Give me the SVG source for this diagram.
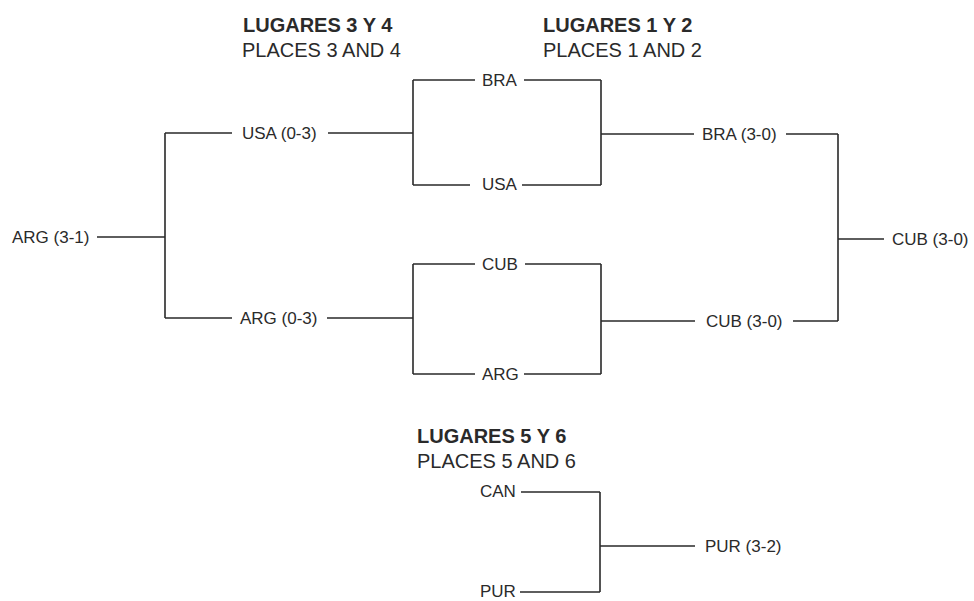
<svg xmlns="http://www.w3.org/2000/svg" width="974" height="601" viewBox="0 0 974 601">
<style>
.h{font-family:"Liberation Sans",Arial,sans-serif;font-size:20px;fill:#2a2a2a}
.b{font-weight:bold}
.t{font-family:"Liberation Sans",Arial,sans-serif;font-size:17px;fill:#2a2a2a}
.c{fill:none;stroke:#2a2a2a;stroke-width:1.6}
</style>
<rect width="974" height="601" fill="#ffffff"/>
<g id="headings">
<text class="h b" x="243" y="32">LUGARES 3 Y 4</text>
<text class="h" x="242" y="57">PLACES 3 AND 4</text>
<text class="h b" x="543" y="32">LUGARES 1 Y 2</text>
<text class="h" x="543" y="57">PLACES 1 AND 2</text>
<text class="h b" x="417" y="443">LUGARES 5 Y 6</text>
<text class="h" x="417" y="468">PLACES 5 AND 6</text>
</g>
<g id="connectors">
<path class="c" d="M97,237H165M165,133V318M165,133H232M165,318H232M328,133H413M327,318H413"/>
<path class="c" d="M413,80V185M413,80H475M413,185H470M524,80H601M522,185H601M601,80V185M601,134H694M786,134H838"/>
<path class="c" d="M413,264V374M413,264H475M413,374H475M525,264H601M524,374H601M601,264V374M601,321H695M793,321H838"/>
<path class="c" d="M838,134V321M838,239H884"/>
<path class="c" d="M521,492H600M520,592H600M600,492V592M600,546H695"/>
</g>
<g id="arg31"><text class="t" x="12" y="243">ARG (3-1)</text></g>
<g id="usa03"><text class="t" x="242" y="139">USA (0-3)</text></g>
<g id="arg03"><text class="t" x="240" y="324">ARG (0-3)</text></g>
<g id="bra"><text class="t" x="482" y="86">BRA</text></g>
<g id="usa"><text class="t" x="482" y="190">USA</text></g>
<g id="cub"><text class="t" x="482" y="270">CUB</text></g>
<g id="arg"><text class="t" x="482" y="380">ARG</text></g>
<g id="bra30"><text class="t" x="702" y="140">BRA (3-0)</text></g>
<g id="cub30a"><text class="t" x="706" y="327">CUB (3-0)</text></g>
<g id="cub30b"><text class="t" x="892" y="245">CUB (3-0)</text></g>
<g id="can"><text class="t" x="480" y="497">CAN</text></g>
<g id="pur"><text class="t" x="480" y="597">PUR</text></g>
<g id="pur32"><text class="t" x="705" y="552">PUR (3-2)</text></g>
</svg>
